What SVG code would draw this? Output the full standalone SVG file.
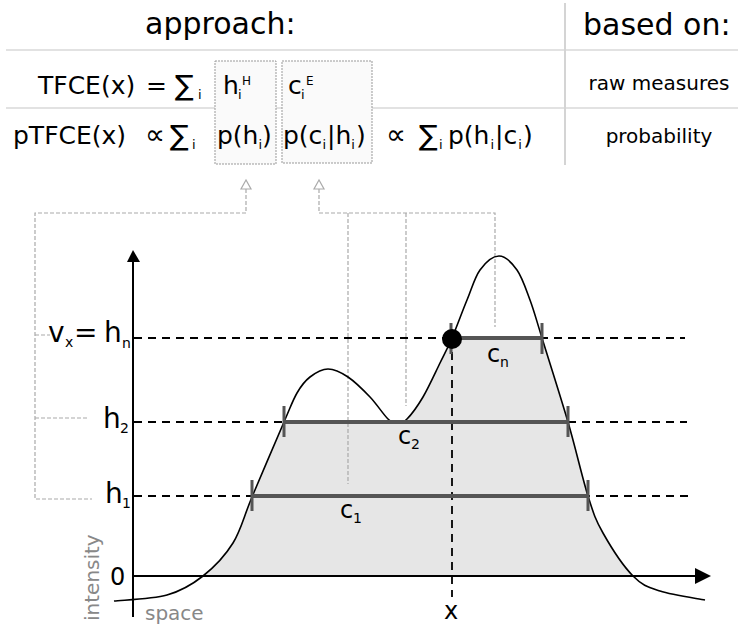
<svg xmlns="http://www.w3.org/2000/svg" width="738" height="624" viewBox="0 0 738 624">
<defs>
<style>
text{font-family:"DejaVu Sans","Liberation Sans",sans-serif;fill:#000}
.f24{font-size:24px}
.f25{font-size:25px}
.sig{font-size:28px}
.f28{font-size:28px}
.sub{font-size:14px}
.sm{font-size:13px}
.gray{fill:#888}
.rule{stroke:#e2e2e2;stroke-width:2;fill:none}
.box{fill:#fafafa;stroke:#999;stroke-width:1;stroke-dasharray:2 1}
.conn{stroke:#aaa;stroke-width:1.2;fill:none;stroke-dasharray:4 2}
.thr{stroke:#000;stroke-width:1.8;fill:none;stroke-dasharray:8 6}
.bar{stroke:#555;stroke-width:4;fill:none}
.tick{stroke:#555;stroke-width:3;fill:none}
</style>
</defs>
<rect width="738" height="624" fill="#fff"/>

<g id="table">
<line class="rule" x1="6" y1="50" x2="738" y2="50"/>
<line class="rule" x1="6" y1="108" x2="738" y2="108"/>
<line x1="565" y1="3" x2="565" y2="165" stroke="#d4d4d4" stroke-width="2"/>
<rect id="box-h" class="box" x="215" y="61" width="61" height="103"/>
<rect id="box-c" class="box" x="282" y="61" width="90" height="102"/>
<text x="145" y="34" style="font-size:30px">approach:</text>
<text x="583" y="35" style="font-size:30px">based on:</text>
<text x="659" y="90" text-anchor="middle" style="font-size:20px">raw measures</text>
<text x="659" y="143" text-anchor="middle" style="font-size:20px">probability</text>
</g>

<g id="row-tfce">
<text class="f25" x="38" y="94">TFCE(x)</text>
<text class="f25" x="146" y="94">=</text>
<text class="sig" x="175" y="95">∑</text>
<text class="sm" x="198" y="99">i</text>
<text class="f25" x="223" y="94">h</text>
<text class="sm" x="238" y="99">i</text>
<text style="font-size:12px" x="242" y="85">H</text>
<text class="f25" x="288" y="94">c</text>
<text class="sm" x="301" y="99">i</text>
<text style="font-size:12px" x="306" y="85">E</text>
</g>

<g id="row-ptfce">
<text class="f25" x="13" y="144">pTFCE(x)</text>
<text class="sig" x="145" y="144">∝</text>
<text class="sig" x="170" y="145">∑</text>
<text class="sm" x="192" y="149">i</text>
<text class="f25" x="217" y="144">p(h<tspan class="sm" dy="5">i</tspan><tspan dy="-5">)</tspan></text>
<text class="f25" x="283" y="144">p(c<tspan class="sm" dy="5">i</tspan><tspan dy="-5" dx="1">|h</tspan><tspan class="sm" dy="5">i</tspan><tspan dy="-5" dx="1">)</tspan></text>
<text class="sig" x="386" y="144">∝</text>
<text class="sig" x="419" y="145">∑</text>
<text class="sm" x="439" y="149">i</text>
<text class="f25" x="448" y="144">p(h<tspan class="sm" dy="5" dx="1">i</tspan><tspan dy="-5" dx="1">|c</tspan><tspan class="sm" dy="5" dx="1">i</tspan><tspan dy="-5" dx="1">)</tspan></text>
</g>

<g id="area">
<path fill="#e6e6e6" d="M203,576 C214,567.3 224.8,556.2 233,543 C241.2,529.8 243.5,517.2 252,497 C260.5,476.8 276.5,439.3 284,422 L397,422 C400.2,423 402.7,423.3 407,419 C411.3,414.7 417.5,406.3 423,397 C428.5,387.7 435.2,372.8 440,363 C444.8,353.2 447.5,348.5 452,338 L542,338 C548.3,358.3 560.3,395.7 568,422 C575.7,448.3 582.2,477.5 588,496 C593.8,514.5 595.5,519.7 603,533 C610.5,546.3 623.5,566.3 633,576 Z"/>
</g>

<g id="connectors">
<polyline class="conn" points="246,189 246,213 35,213 35,499 92,499"/>
<line class="conn" x1="35" y1="335" x2="50" y2="335"/>
<line class="conn" x1="35" y1="418" x2="89" y2="418"/>
<polyline class="conn" points="319,189 319,213 495,213 495,327"/>
<line class="conn" x1="348" y1="213" x2="348" y2="484"/>
<line class="conn" x1="406" y1="213" x2="406" y2="406"/>
<polygon points="246,180 241,189 251,189" fill="#fff" stroke="#aaa" stroke-width="1.2"/>
<polygon points="319,180 314,189 324,189" fill="#fff" stroke="#aaa" stroke-width="1.2"/>
</g>

<g id="thresholds">
<line class="thr" x1="134" y1="338" x2="685" y2="338"/>
<line class="thr" x1="134" y1="422" x2="687" y2="422"/>
<line class="thr" x1="134" y1="496" x2="688" y2="496"/>
<line class="thr" x1="452" y1="338" x2="452" y2="597"/>
</g>

<g id="curve">
<path fill="none" stroke="#000" stroke-width="1.6" d="M114,601 C122.8,600 152.2,599.2 167,595 C181.8,590.8 192,584.7 203,576 C214,567.3 224.8,556.2 233,543 C241.2,529.8 243.5,517.2 252,497 C260.5,476.8 276.5,439.3 284,422 C291.5,404.7 292.7,400.5 297,393 C301.3,385.5 304.8,381 310,377 C315.2,373 321.7,369 328,369 C334.3,369 341,372.3 348,377 C355,381.7 363.3,390 370,397 C376.7,404 383.5,414.7 388,419 C392.5,423.3 393.8,423 397,423 C400.2,423 402.7,423.3 407,419 C411.3,414.7 417.5,406.3 423,397 C428.5,387.7 435.2,372.8 440,363 C444.8,353.2 447.5,348.5 452,338 C456.5,327.5 462.3,311.3 467,300 C471.7,288.7 474.7,277.3 480,270 C485.3,262.7 492.8,256 499,256 C505.2,256 511.8,262.7 517,270 C522.2,277.3 525.8,288.7 530,300 C534.2,311.3 535.7,317.7 542,338 C548.3,358.3 560.3,395.7 568,422 C575.7,448.3 582.2,477.5 588,496 C593.8,514.5 595.5,519.7 603,533 C610.5,546.3 623.5,566.3 633,576 C642.5,585.7 648,587 660,591 C672,595 697.5,598.5 705,600"/>
</g>

<g id="cluster-1">
<line class="bar" x1="252" y1="496" x2="588" y2="496"/>
<line class="tick" x1="252" y1="480" x2="252" y2="511"/>
<line class="tick" x1="588" y1="480" x2="588" y2="511"/>
<text class="f24" x="340" y="518">c</text>
<text class="sub" x="353" y="523">1</text>
</g>
<g id="cluster-2">
<line class="bar" x1="284" y1="422" x2="568" y2="422"/>
<line class="tick" x1="284" y1="406" x2="284" y2="437"/>
<line class="tick" x1="568" y1="406" x2="568" y2="437"/>
<text class="f24" x="398" y="444">c</text>
<text class="sub" x="411" y="449">2</text>
</g>
<g id="cluster-n">
<line class="bar" x1="452" y1="338" x2="542" y2="338"/>
<line class="tick" x1="451" y1="323" x2="451" y2="354"/>
<line class="tick" x1="542" y1="323" x2="542" y2="354"/>
<text class="f24" x="487" y="362">c</text>
<text class="sub" x="500" y="367">n</text>
<circle cx="452" cy="339" r="10" fill="#000"/>
</g>

<g id="axes">
<line x1="133" y1="617" x2="133" y2="258" stroke="#000" stroke-width="2"/>
<polygon points="133,250 127,262 140,262" fill="#000"/>
<line x1="133" y1="576" x2="698" y2="576" stroke="#000" stroke-width="2"/>
<polygon points="711,576 695,568 695,584" fill="#000"/>
<text class="f24" x="110" y="585">0</text>
<text class="gray" style="font-size:20px" transform="translate(99,621) rotate(-90)">intensity</text>
<text class="gray" style="font-size:20px" x="145" y="620">space</text>
<text class="f24" x="444" y="619">x</text>
</g>

<g id="levels">
<text class="f28" x="48" y="342">v</text>
<text class="sub" x="65" y="347">x</text>
<text class="f28" x="74" y="342">=</text>
<text class="f28" x="104" y="342">h</text>
<text class="sub" x="122" y="348">n</text>
<text class="f28" x="103" y="428">h</text>
<text class="sub" x="120" y="433">2</text>
<text class="f28" x="105" y="503">h</text>
<text class="sub" x="122" y="508">1</text>
</g>
</svg>
